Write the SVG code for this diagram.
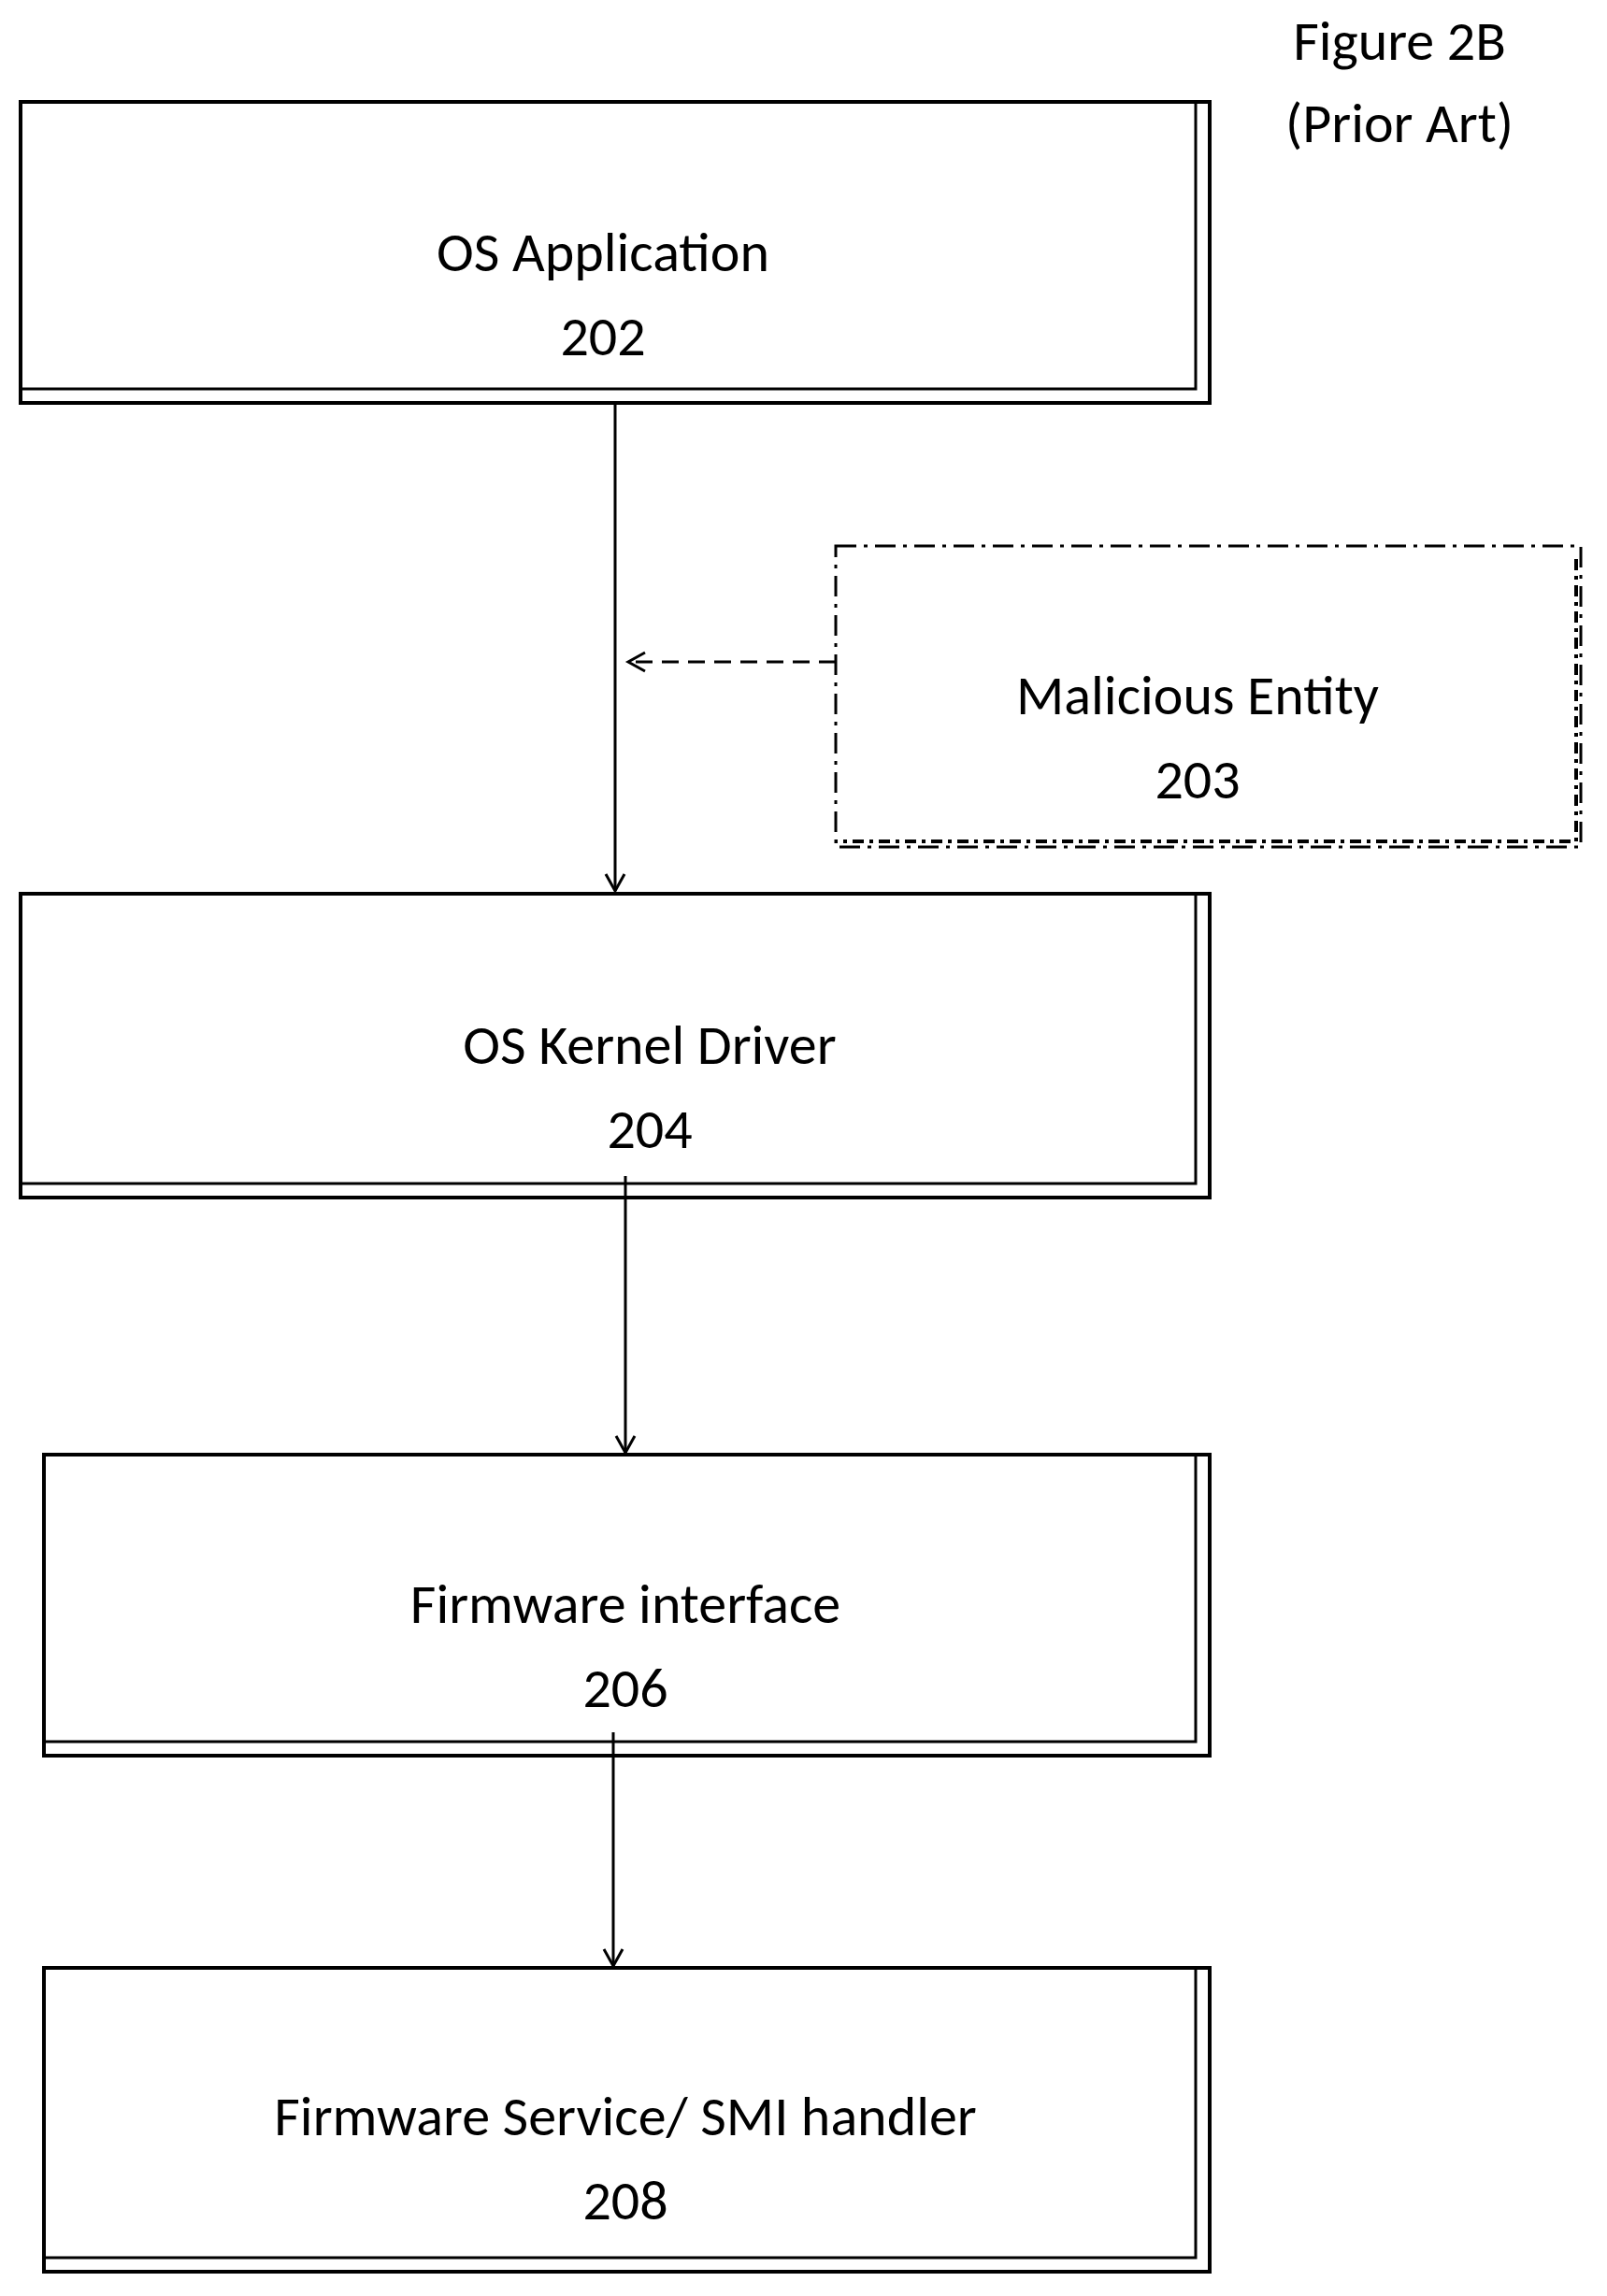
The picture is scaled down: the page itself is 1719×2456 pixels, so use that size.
<svg xmlns="http://www.w3.org/2000/svg" width="1719" height="2456" viewBox="0 0 1719 2456">
<style>
text{font-family:Carlito,"Liberation Sans Narrow","Open Sans","Liberation Sans",sans-serif;font-size:60px;fill:#000;text-anchor:middle}
.b{fill:#fff;stroke:#000;stroke-width:4}
.d{fill:none;stroke:#000;stroke-width:3}
.c{fill:none;stroke:#000;stroke-width:3}
</style>
<defs><marker id="a" markerWidth="24" markerHeight="24" refX="20" refY="12" orient="auto" markerUnits="userSpaceOnUse"><path d="M2,2 L20,12 L2,22" fill="none" stroke="#000" stroke-width="3"/></marker></defs>
<text x="1497" y="64">Figure 2B</text>
<text x="1497" y="152">(Prior Art)</text>
<g id="n202"><rect class="b" x="22" y="109" width="1272" height="322"/><path class="d" d="M1279,109V416H22"/><text x="645" y="290">OS Application</text><text x="645" y="380">202</text></g>
<g id="n203"><rect x="894" y="584" width="797" height="322" fill="none" stroke="#000" stroke-width="3" stroke-dasharray="22,8,4,8"/><path d="M1686,598V900H894" fill="none" stroke="#000" stroke-width="4" stroke-dasharray="12,6,4,6"/><text x="1281" y="764">Malicious Entity</text><text x="1281" y="854">203</text></g>
<g id="n204"><rect class="b" x="22" y="956" width="1272" height="325"/><path class="d" d="M1279,956V1266H22"/><text x="695" y="1138">OS Kernel Driver</text><text x="695" y="1228">204</text></g>
<g id="n206"><rect class="b" x="47" y="1556" width="1247" height="322"/><path class="d" d="M1279,1556V1863H47"/><text x="669" y="1736">Firmware interface</text><text x="669" y="1826">206</text></g>
<g id="n208"><rect class="b" x="47" y="2105" width="1247" height="325"/><path class="d" d="M1279,2105V2415H47"/><text x="669" y="2284">Firmware Service/ SMI handler</text><text x="669" y="2374">208</text></g>
<g id="connectors">
<line class="c" x1="658" y1="431" x2="658" y2="953" marker-end="url(#a)"/>
<line class="c" x1="894" y1="708" x2="672" y2="708" stroke-dasharray="18,10" marker-end="url(#a)"/>
<line class="c" x1="669" y1="1258" x2="669" y2="1554" marker-end="url(#a)"/>
<line class="c" x1="656" y1="1853" x2="656" y2="2103" marker-end="url(#a)"/>
</g>
</svg>
